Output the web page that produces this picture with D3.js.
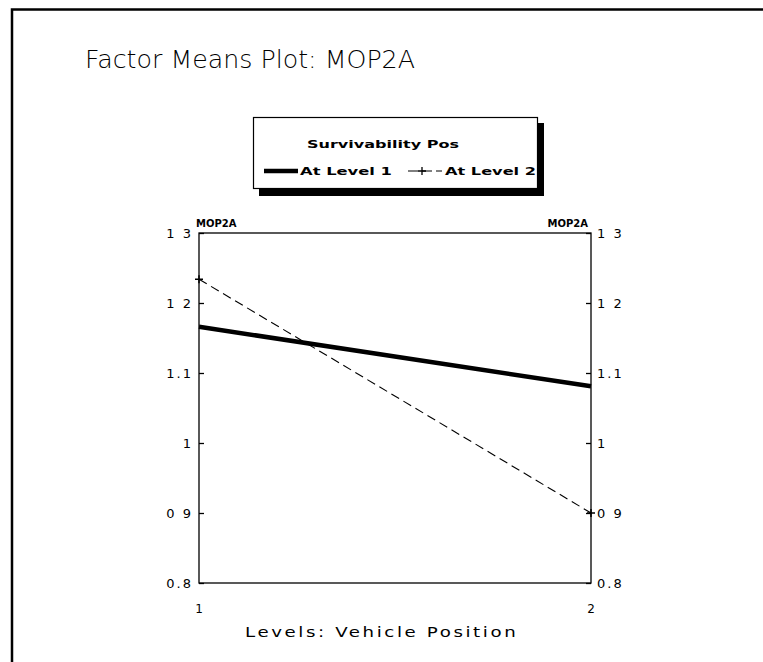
<!DOCTYPE html>
<html><head><meta charset="utf-8">
<script src="https://cdn.jsdelivr.net/npm/d3@7"></script>
<style>body{margin:0;background:#fff}</style>
</head><body>
<svg id="c" width="763" height="662"></svg>
<script>
const levels = [1, 2];
const seriesNames = ["At Level 1", "At Level 2"];
const level1Values = [1.166, 1.081];
const level2Values = [1.234, 0.900];
const yTicks = [0.8, 0.9, 1.0, 1.1, 1.2, 1.3];
const yTickLabels = ["0.8", "0 9", "1", "1.1", "1 2", "1 3"];

const svg = d3.select("#c");
const font = "'DejaVu Sans', sans-serif";

// outer frame
svg.append("path").attr("d", "M12,662 V9.5 H763").attr("fill", "none").attr("stroke", "#000").attr("stroke-width", 2.5);

// title
svg.append("text").attr("x", 85).attr("y", 68)
  .attr("font-family", font).attr("font-size", 24).attr("font-weight", 200)
  .attr("textLength", 330).attr("lengthAdjust", "spacingAndGlyphs")
  .text("Factor Means Plot: MOP2A");

const L = 199, R = 591, T = 233, B = 583;
const x = d3.scaleLinear().domain([1, 2]).range([L, R]);
const y = d3.scaleLinear().domain([0.8, 1.3]).range([B, T]);

// legend
const lg = svg.append("g");
lg.append("rect").attr("x", 259).attr("y", 123).attr("width", 285).attr("height", 73).attr("fill", "#000");
lg.append("rect").attr("x", 253.5).attr("y", 117.5).attr("width", 284).attr("height", 71).attr("fill", "#fff").attr("stroke", "#000").attr("stroke-width", 1.2);
lg.append("text").attr("x", 307).attr("y", 148).attr("font-family", font)
  .attr("font-size", 11).attr("font-weight", "bold").attr("textLength", 152).attr("lengthAdjust", "spacingAndGlyphs").text("Survivability Pos");
lg.append("line").attr("x1", 264).attr("x2", 298).attr("y1", 171).attr("y2", 171).attr("stroke", "#000").attr("stroke-width", 4.5);
lg.append("text").attr("x", 300).attr("y", 175).attr("font-family", font).attr("font-size", 11).attr("font-weight", "bold")
  .attr("textLength", 92).attr("lengthAdjust", "spacingAndGlyphs").text(seriesNames[0]);
lg.append("line").attr("x1", 408).attr("x2", 442).attr("y1", 171).attr("y2", 171).attr("stroke", "#000").attr("stroke-width", 1.1).attr("stroke-dasharray", "10,4");
lg.append("path").attr("d", "M422,167V175M418,171H426").attr("stroke", "#000").attr("stroke-width", 1.3);
lg.append("text").attr("x", 445).attr("y", 175).attr("font-family", font).attr("font-size", 11).attr("font-weight", "bold")
  .attr("textLength", 91).attr("lengthAdjust", "spacingAndGlyphs").text(seriesNames[1]);

// plot frame
svg.append("rect").attr("x", L).attr("y", T).attr("width", R - L).attr("height", B - T)
  .attr("fill", "none").attr("stroke", "#000").attr("stroke-width", 1.3);

// axes
const fmt = d => yTickLabels[yTicks.indexOf(d)];
const yl = svg.append("g").attr("transform", `translate(${L},0)`)
  .call(d3.axisRight(y).tickValues(yTicks).tickFormat("").tickSize(5));
const yr = svg.append("g").attr("transform", `translate(${R},0)`)
  .call(d3.axisLeft(y).tickValues(yTicks).tickFormat("").tickSize(5));
[yl, yr].forEach(g => { g.select(".domain").remove(); g.selectAll("line").attr("stroke-width", 1.3); });

svg.append("g").selectAll("text").data(yTicks).join("text")
  .attr("x", L - 6).attr("y", d => y(d) + 5).attr("text-anchor", "end")
  .attr("font-family", font).attr("font-size", 13).attr("letter-spacing", 2).text(fmt);
svg.append("g").selectAll("text").data(yTicks).join("text")
  .attr("x", R + 6).attr("y", d => y(d) + 5).attr("text-anchor", "start")
  .attr("font-family", font).attr("font-size", 13).attr("letter-spacing", 2).text(fmt);

svg.append("g").selectAll("text").data(levels).join("text")
  .attr("x", d => x(d)).attr("y", 613).attr("text-anchor", "middle")
  .attr("font-family", font).attr("font-size", 12).text(d => d);

svg.append("text").attr("x", L - 3).attr("y", 227).attr("font-family", font).attr("font-size", 10).attr("font-weight", "bold").text("MOP2A");
svg.append("text").attr("x", R - 3).attr("y", 227).attr("text-anchor", "end").attr("font-family", font).attr("font-size", 10).attr("font-weight", "bold").text("MOP2A");

svg.append("text").attr("transform", "translate(245,637) scale(1.3,1)")
  .attr("font-family", font).attr("font-size", 14).attr("letter-spacing", 2)
  .text("Levels: Vehicle Position");

// lines
const line = d3.line().x((d, i) => x(levels[i])).y(d => y(d));
svg.append("path").datum(level1Values).attr("d", line).attr("fill", "none").attr("stroke", "#000").attr("stroke-width", 4.5);
svg.append("path").datum(level2Values).attr("d", line).attr("fill", "none").attr("stroke", "#000").attr("stroke-width", 1.1).attr("stroke-dasharray", "9,5");
svg.append("g").selectAll("path").data(level2Values).join("path")
  .attr("d", (d, i) => `M${x(levels[i]) - 4},${y(d)}H${x(levels[i]) + 4}M${x(levels[i])},${y(d) - 4}V${y(d) + 4}`)
  .attr("stroke", "#000").attr("stroke-width", 1.5);
</script>
</body></html>
